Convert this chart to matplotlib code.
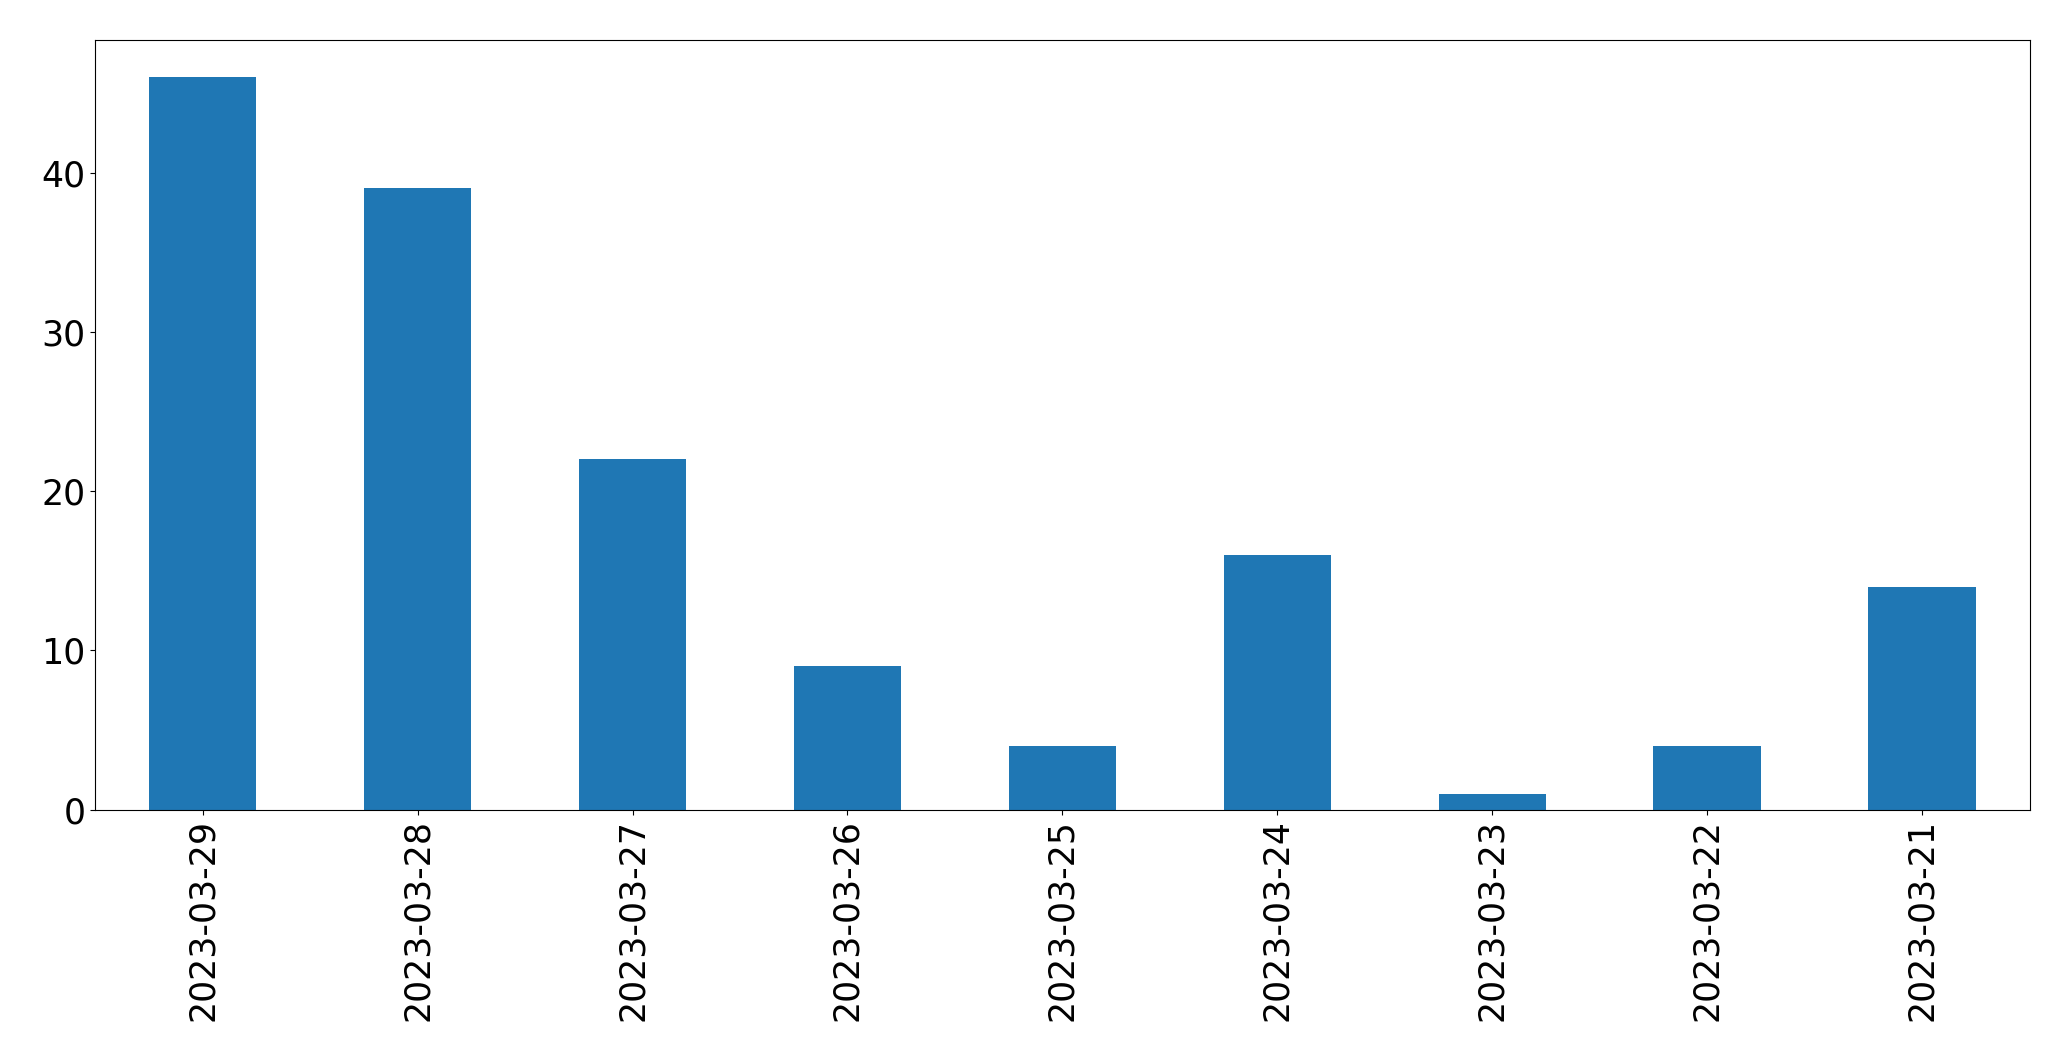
import matplotlib
matplotlib.use("Agg")
import matplotlib.pyplot as plt
import pandas as pd

dates = ["2023-03-29", "2023-03-28", "2023-03-27", "2023-03-26", "2023-03-25",
         "2023-03-24", "2023-03-23", "2023-03-22", "2023-03-21"]
counts = [46, 39, 22, 9, 4, 16, 1, 4, 14]

s = pd.Series(counts, index=dates)

fig = plt.figure(figsize=(20.71, 10.61), dpi=100)
ax = fig.add_axes([0.046, 0.237, 0.934, 0.725])
s.plot(kind="bar", ax=ax, color="#1f77b4", width=0.5)
ax.tick_params(axis="both", labelsize=25)
ax.set_ylim(0, 48.3)

fig.savefig("out.png", dpi=100)
